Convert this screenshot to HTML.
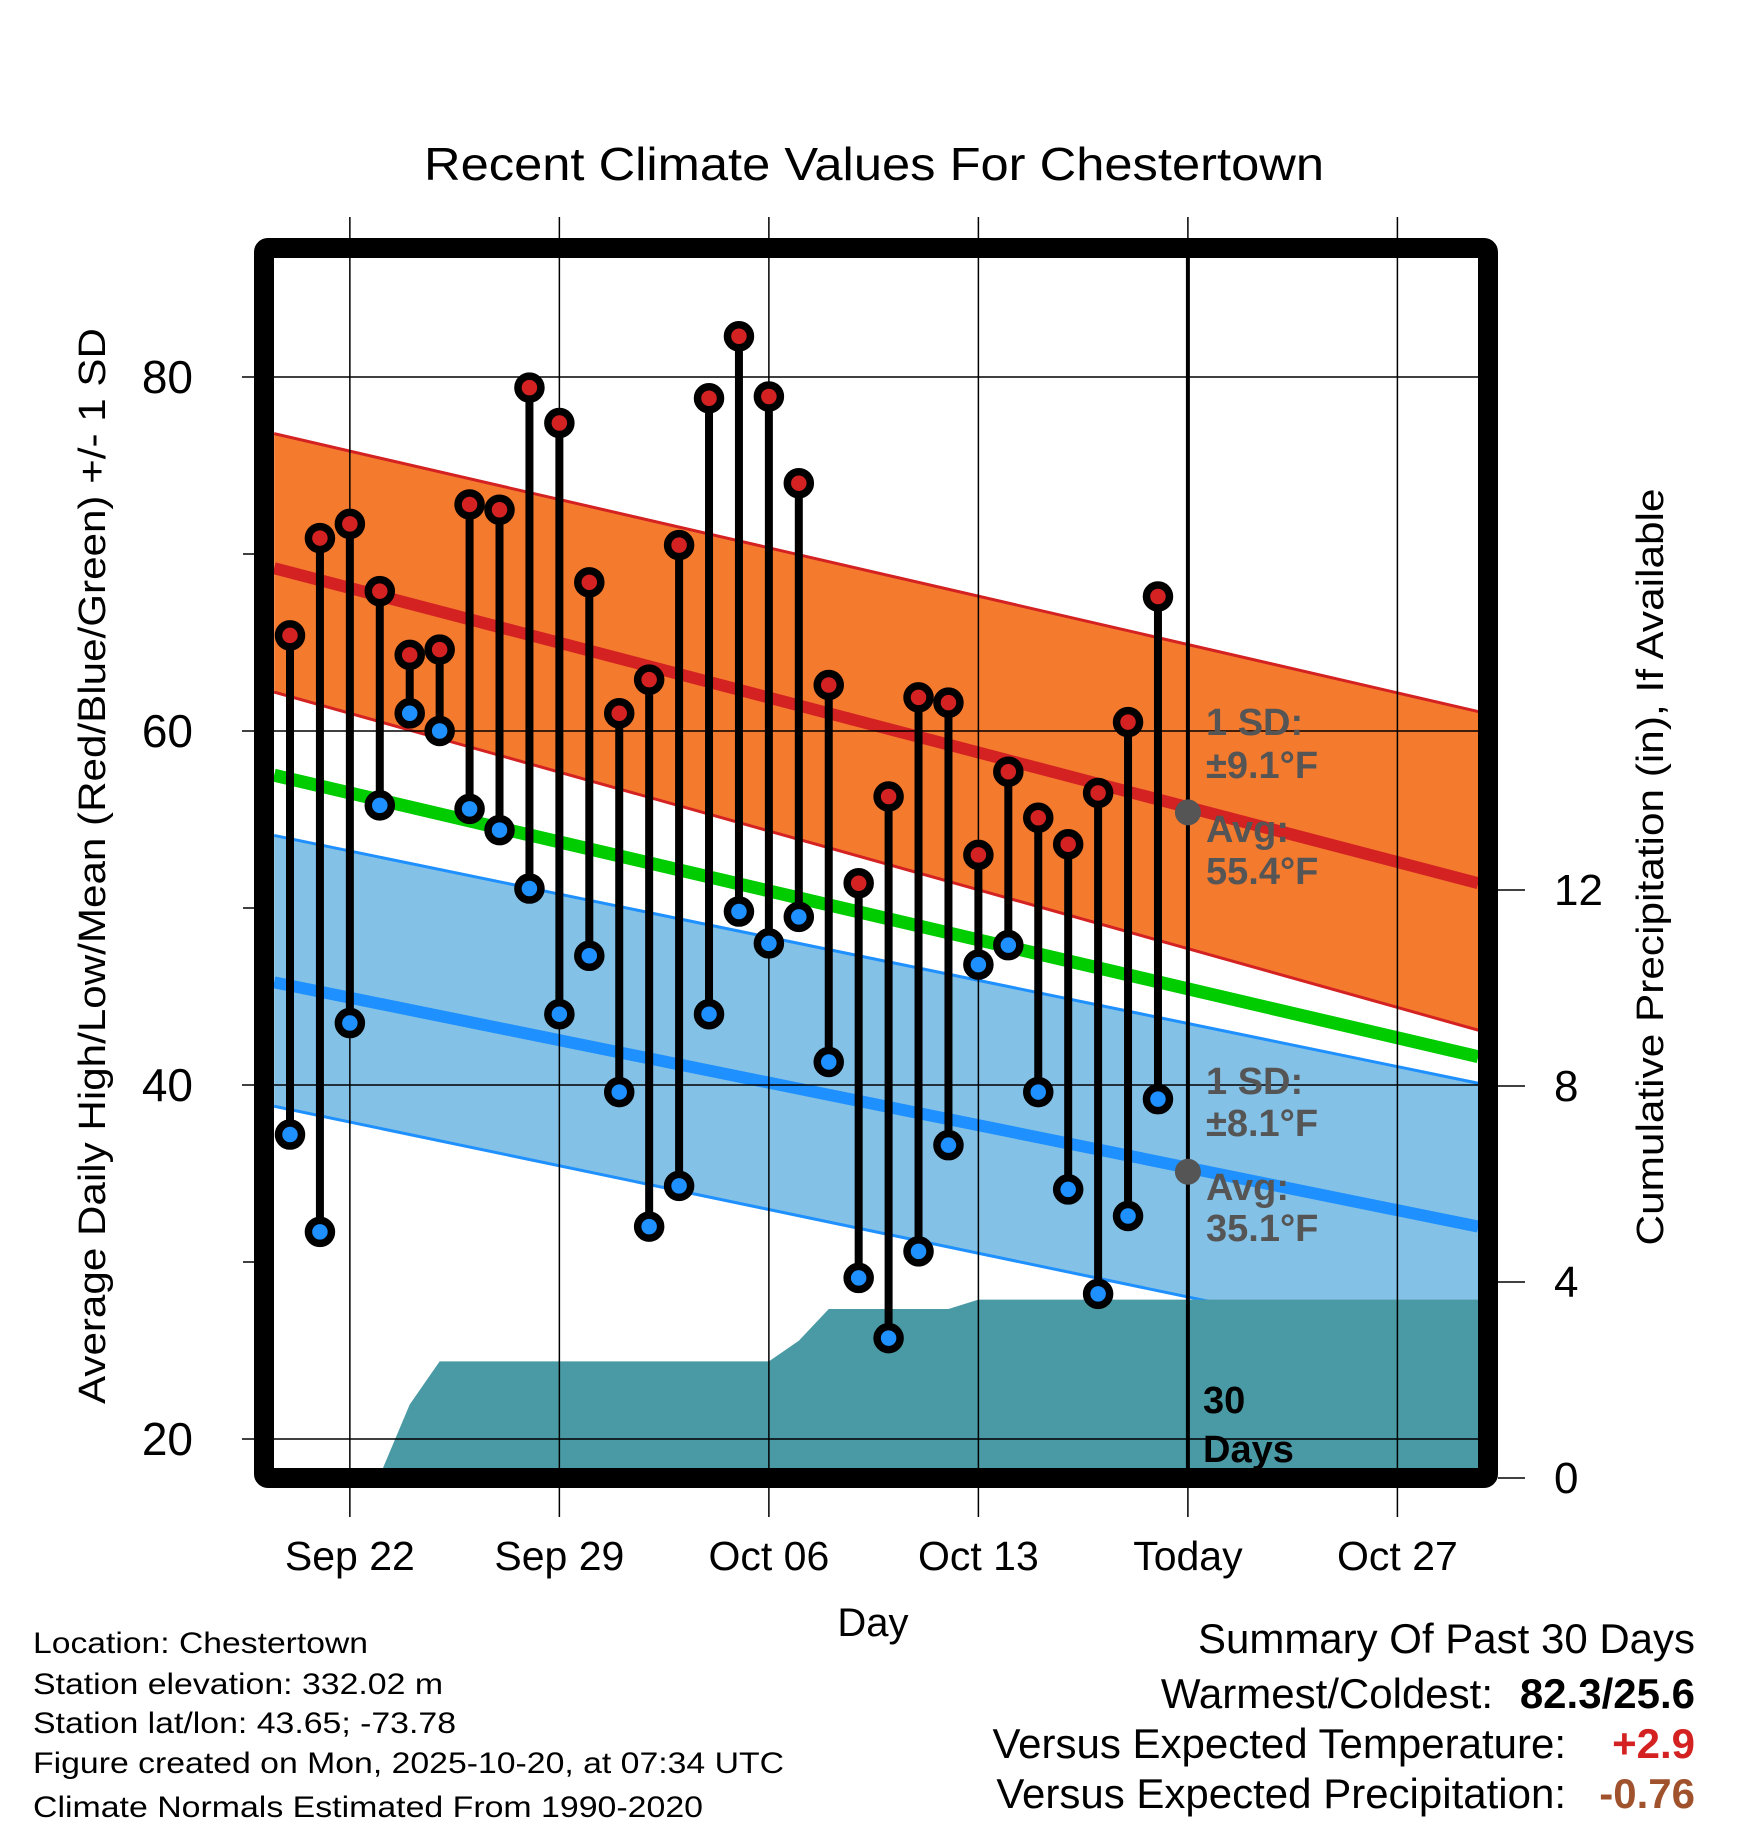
<!DOCTYPE html>
<html><head><meta charset="utf-8"><style>
html,body{margin:0;padding:0;background:#fff;}
svg{display:block;font-family:"Liberation Sans",Arial,sans-serif;}
</style></head><body>
<svg id="chart" width="1748" height="1828" viewBox="0 0 1748 1828" xmlns="http://www.w3.org/2000/svg">
<text x="874" y="180" font-size="46" text-anchor="middle" textLength="900" lengthAdjust="spacingAndGlyphs">Recent Climate Values For Chestertown</text>
<g id="plot"></g>
<text transform="translate(105,866) rotate(-90)" font-size="38" text-anchor="middle" textLength="1076" lengthAdjust="spacingAndGlyphs">Average Daily High/Low/Mean (Red/Blue/Green) +/- 1 SD</text>
<text transform="translate(1663,867) rotate(-90)" font-size="38" text-anchor="middle" textLength="757" lengthAdjust="spacingAndGlyphs">Cumulative Precipitation (in), If Available</text>
<text x="873" y="1636" font-size="40" text-anchor="middle">Day</text>
<g font-size="30">
<text x="33" y="1653" textLength="335" lengthAdjust="spacingAndGlyphs">Location: Chestertown</text>
<text x="33" y="1694" textLength="410" lengthAdjust="spacingAndGlyphs">Station elevation: 332.02 m</text>
<text x="33" y="1733" textLength="423" lengthAdjust="spacingAndGlyphs">Station lat/lon: 43.65; -73.78</text>
<text x="33" y="1773" textLength="751" lengthAdjust="spacingAndGlyphs">Figure created on Mon, 2025-10-20, at 07:34 UTC</text>
<text x="33" y="1817" textLength="670" lengthAdjust="spacingAndGlyphs">Climate Normals Estimated From 1990-2020</text>
</g>
<g font-size="42">
<text x="1695" y="1653" text-anchor="end" textLength="497" lengthAdjust="spacingAndGlyphs">Summary Of Past 30 Days</text>
<text x="1493" y="1708" text-anchor="end">Warmest/Coldest:</text>
<text x="1695" y="1708" text-anchor="end" font-weight="bold">82.3/25.6</text>
<text x="1566" y="1758" text-anchor="end">Versus Expected Temperature:</text>
<text x="1695" y="1758" text-anchor="end" font-weight="bold" fill="#d42222">+2.9</text>
<text x="1566" y="1808" text-anchor="end">Versus Expected Precipitation:</text>
<text x="1695" y="1808" text-anchor="end" font-weight="bold" fill="#a0522d">-0.76</text>
</g>
</svg>
<script>
const dayLabels = ["Sep 22","Sep 29","Oct 06","Oct 13","Today","Oct 27"];
const dayLabelIdx = [2,9,16,23,30,37];
const highs = [65.4,70.9,71.7,67.9,64.3,64.6,72.8,72.5,79.4,77.4,68.4,61.0,62.9,70.5,78.8,82.3,78.9,74.0,62.6,51.4,56.3,61.9,61.6,53.0,57.7,55.1,53.6,56.5,60.5,67.6];
const lows = [37.2,31.7,43.5,55.8,61.0,60.0,55.6,54.4,51.1,44.0,47.3,39.6,32.0,34.3,44.0,49.8,48.0,49.5,41.3,29.1,25.7,30.6,36.6,46.8,47.9,39.6,34.1,28.2,32.6,39.2];
const precip = [0,0,0,0.05,1.5,2.38,2.38,2.38,2.38,2.38,2.38,2.38,2.38,2.38,2.38,2.38,2.38,2.8,3.45,3.45,3.45,3.45,3.45,3.64,3.64,3.64,3.64,3.64,3.64,3.64];
const normDays = [-0.53,39.7];
const highMean = [69.2,51.4];
const highUpper = [76.8,61.1];
const highLower = [62.2,43.1];
const allMean = [57.5,41.6];
const lowMean = [45.8,32.0];
const lowUpper = [54.1,40.1];
const lowLower = [38.8,24.6];
const yTicks = [20,40,60,80];
const yMinor = [30,50,70];
const pTicks = [0,4,8,12];
const todayIdx = 30;
const todayHigh = 55.4, todayLow = 35.1;

const NS="http://www.w3.org/2000/svg";
const X0=274,X1=1478,Y0=258,Y1=1468;
const xs=d=>290+d*29.93;
const ys=v=>377+(80-v)*17.7;
const yp=p=>1478-p*49;
const plot=document.getElementById('plot');
function mk(tag,attrs,parent){const e=document.createElementNS(NS,tag);for(const k in attrs)e.setAttribute(k,attrs[k]);(parent||plot).appendChild(e);return e;}
const clip=mk('clipPath',{id:'cp'});mk('rect',{x:X0,y:Y0,width:X1-X0,height:Y1-Y0},clip);
const g=mk('g',{'clip-path':'url(#cp)'});


function band(up,lo,fill,stroke,name){
  const pts=[[xs(normDays[0]),ys(up[0])],[xs(normDays[1]),ys(up[1])],[xs(normDays[1]),ys(lo[1])],[xs(normDays[0]),ys(lo[0])]];
  const p=mk('polygon',{points:pts.map(a=>a.join(',')).join(' '),fill:fill},g);
  
  
  [up,lo].forEach(a=>{const l=mk('line',{x1:xs(normDays[0]),y1:ys(a[0]),x2:xs(normDays[1]),y2:ys(a[1]),stroke:stroke,'stroke-width':3},g);
  
  });
}
function mline(a,col,w,name){const l=mk('line',{x1:xs(normDays[0]),y1:ys(a[0]),x2:xs(normDays[1]),y2:ys(a[1]),stroke:col,'stroke-width':w},g);

}
band(highUpper,highLower,'#f47a2e','#d42222','high-sd-band');
band(lowUpper,lowLower,'#84c1e6','#1e90ff','low-sd-band');
mline(allMean,'#00cc00',13,'mean-normal-line');
mline(highMean,'#d42222',12,'high-normal-line');
mline(lowMean,'#1e90ff',12,'low-normal-line');
let pp=[[X0,yp(0)]];
precip.forEach((v,i)=>pp.push([xs(i),yp(v)]));
pp.push([X1,yp(precip[precip.length-1])]);pp.push([X1,yp(0)]);
const pa=mk('polygon',{points:pp.map(a=>a.join(',')).join(' '),fill:'#4a9aa5'},g);


yTicks.forEach(v=>{const l=mk('line',{x1:242,y1:ys(v),x2:X1,y2:ys(v),stroke:'#000','stroke-width':1.5});


const t=mk('text',{x:193,y:ys(v)+16,'font-size':46,'text-anchor':'end'});t.textContent=v;

});
yMinor.forEach(v=>{const l=mk('line',{x1:243,y1:ys(v),x2:256,y2:ys(v),stroke:'#000','stroke-width':1.5});

});
dayLabelIdx.forEach((d,i)=>{const x=xs(d);
const l=mk('line',{x1:x,y1:217,x2:x,y2:1517,stroke:'#000','stroke-width':1.5});


const t=mk('text',{x:x,y:1570,'font-size':41,'text-anchor':'middle'});t.textContent=dayLabels[i];

});
const tl=mk('line',{x1:xs(todayIdx),y1:Y0,x2:xs(todayIdx),y2:Y1,stroke:'#000','stroke-width':4});


pTicks.forEach(v=>{const l=mk('line',{x1:1498,y1:yp(v),x2:1525,y2:yp(v),stroke:'#000','stroke-width':1.5});


const t=mk('text',{x:1554,y:yp(v)+15,'font-size':44});t.textContent=v;

});
highs.forEach((h,i)=>{const x=xs(i);
const s=mk('line',{x1:x,y1:ys(h),x2:x,y2:ys(lows[i]),stroke:'#000','stroke-width':8});

});
highs.forEach((h,i)=>{const x=xs(i);
const c1=mk('circle',{cx:x,cy:ys(h),r:11.5,fill:'#d42222',stroke:'#000','stroke-width':7.5});


const c2=mk('circle',{cx:x,cy:ys(lows[i]),r:11.5,fill:'#1e90ff',stroke:'#000','stroke-width':7.5});

});
[todayHigh,todayLow].forEach(v=>{const c=mk('circle',{cx:xs(todayIdx),cy:ys(v),r:13,fill:'#555'});

});
function lab(txt,x,y,col,name){const t=mk('text',{x:x,y:y,'font-size':38,'font-weight':'bold',fill:col});t.textContent=txt;

}
lab('1 SD:',1206,735,'#555','high-sd-label');lab('±9.1°F',1206,778,'#555','high-sd-value');
lab('Avg:',1206,842,'#555','high-avg-label');lab('55.4°F',1206,884,'#555','high-avg-value');
lab('1 SD:',1206,1094,'#555','low-sd-label');lab('±8.1°F',1206,1136,'#555','low-sd-value');
lab('Avg:',1206,1200,'#555','low-avg-label');lab('35.1°F',1206,1241,'#555','low-avg-value');
lab('30',1203,1413,'#000','days-label');lab('Days',1203,1462,'#000','days-label-2');
const fr=mk('rect',{x:264,y:248,width:1224,height:1230,rx:4,fill:'none',stroke:'#000','stroke-width':20});


</script>
</body></html>
